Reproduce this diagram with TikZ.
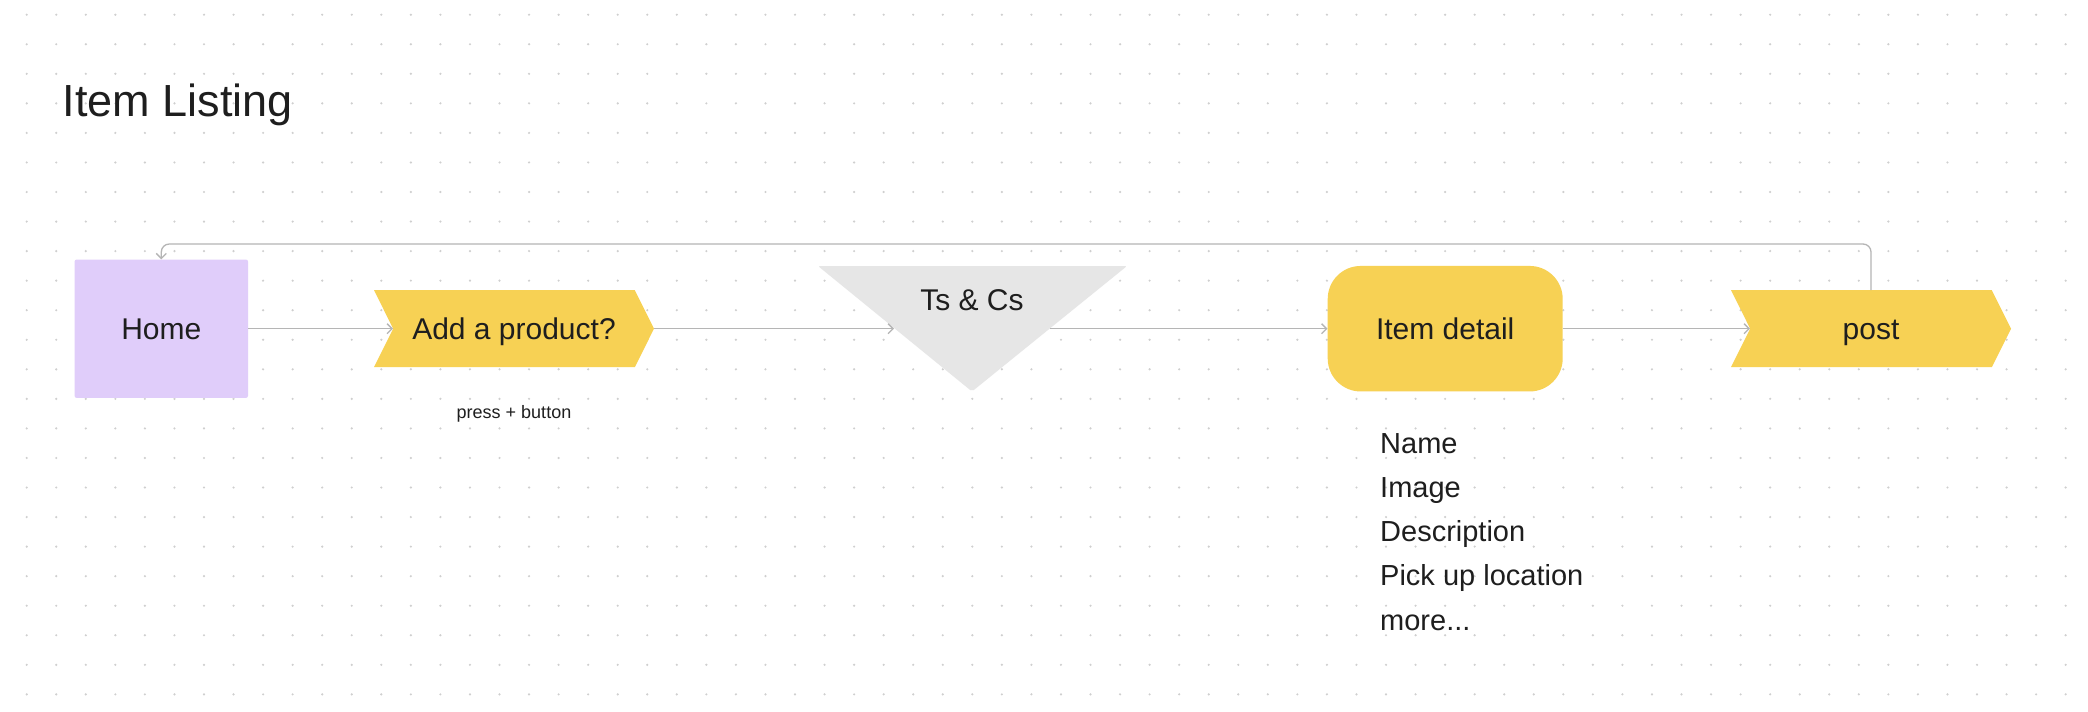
\documentclass[tikz,border=0pt]{standalone}
\usepackage{fontspec}
\setmainfont{Liberation Sans}
\usetikzlibrary{arrows.meta,shapes.symbols}
\definecolor{lav}{HTML}{E0CDFA}
\definecolor{yel}{HTML}{F7D154}
\definecolor{trigray}{HTML}{E6E6E6}
\definecolor{linegray}{HTML}{B5B5B5}
\definecolor{dotgray}{HTML}{CFCFCF}
\definecolor{ink}{HTML}{1E1E1E}
\begin{document}
\begin{tikzpicture}[x=1pt,y=-1pt,
  conn/.style={draw=linegray, line width=1.3pt, -{Straight Barb[length=5pt,width=10pt]}},
  nodetext/.style={font=\fontsize{30}{36}\selectfont, text=ink, text height=21.5pt, text depth=0pt},
  chev/.style={signal, signal to=east, signal from=west, signal pointer angle=127,
    fill=yel, minimum width=280pt, minimum height=77pt, inner sep=0pt, nodetext},
  listtext/.style={font=\fontsize{29}{36}\selectfont, text=ink, anchor=base west, inner sep=0pt}]
\useasboundingbox (0,0) rectangle (2088,712);
\fill[white] (0,0) rectangle (2088,712);
% dot grid
\foreach \i in {0,...,69}{
  \foreach \j in {0,...,23}{
    \fill[dotgray] (26.7+29.55*\i, 14.7+29.55*\j) circle (1.2pt);
  }
}
% title
\node[anchor=base west, inner sep=0pt, font=\fontsize{45}{54}\selectfont, text=ink] (title) at (62.5,116) {Item Listing};
% nodes
\node[fill=lav, rounded corners=2pt, minimum width=173.4pt, minimum height=138.3pt, inner sep=0pt, nodetext] (home) at (161.3,328.7) {Home};
\node[chev] (add) at (514,328.7) {Add a product?};
\node[font=\fontsize{18}{22}\selectfont, text=ink] (press) at (514,414) {press + button};
\fill[trigray, rounded corners=2pt] (818,266) -- (1127,266) -- (972,391.5) -- cycle;
\node[nodetext] (ts) at (972,300) {Ts \& Cs};
\coordinate (triL) at (894,328.7);
\coordinate (triR) at (1050,328.7);
\node[fill=yel, rounded corners=33pt, minimum width=235pt, minimum height=125.5pt, inner sep=0pt, nodetext] (item) at (1445.2,328.7) {Item detail};
\node[chev] (post) at (1871,328.7) {post};
% list
\node[listtext] (l1) at (1380,453) {Name};
\node[listtext] (l2) at (1380,497.3) {Image};
\node[listtext] (l3) at (1380,541.6) {Description};
\node[listtext] (l4) at (1380,585.9) {Pick up location};
\node[listtext] (l5) at (1380,630.2) {more...};
% connectors
\draw[conn] (home.east) -- (add.west);
\draw[conn] (add.east) -- (triL);
\draw[conn] (triR) -- (item.west);
\draw[conn] (item.east) -- (post.west);
\coordinate (loopR) at (1871,244);
\draw[conn, rounded corners=8pt] (post.north) -- (loopR) -| (home.north);
\end{tikzpicture}
\end{document}
